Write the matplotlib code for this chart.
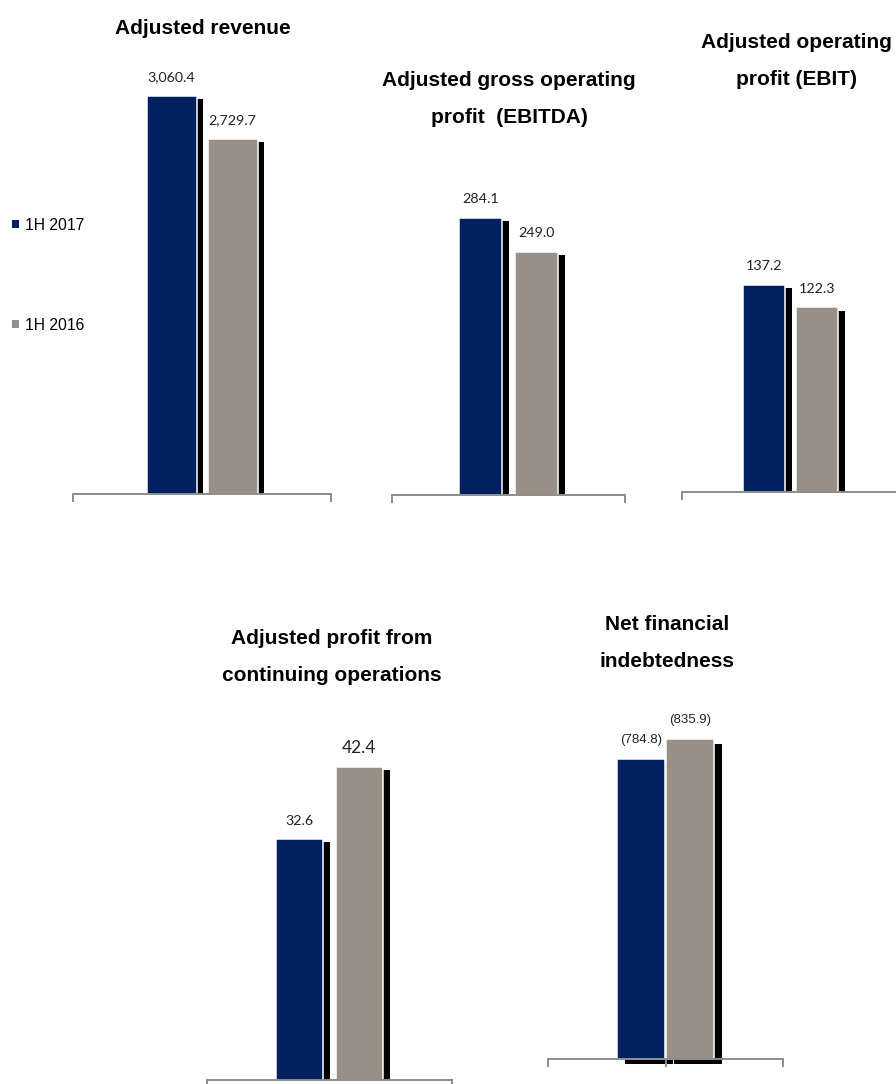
import matplotlib
matplotlib.use("Agg")
from matplotlib import pyplot as plt
from matplotlib import patheffects as pe
from matplotlib.patches import Patch

# values in EUR million, one panel per KPI
series_names = ["1H 2017", "1H 2016"]
panel_titles = [
    "Adjusted revenue",
    "Adjusted gross operating\nprofit  (EBITDA)",
    "Adjusted operating\nprofit (EBIT)",
    "Adjusted profit from\ncontinuing operations",
    "Net financial\nindebtedness",
]
values_2017 = [3060.4, 284.1, 137.2, 32.6, 784.8]
values_2016 = [2729.7, 249.0, 122.3, 42.4, 835.9]
# net debt is shown in brackets
in_brackets = [False, False, False, False, True]

NAVY = "#002060"
TAUPE = "#988f86"
AXIS_GREY = "#8c8c8c"

W, H = 896, 1084

# per panel, in pixels: axis left, axis right, baseline, top of tallest bar, bar pitch, bar width
panel_boxes = [
    (73, 331, 494, 96, 61, 50),
    (392, 625, 495, 218, 55.5, 43),
    (682, 899, 492, 285, 53, 42),
    (207, 452, 1080, 767, 59.5, 47),
    (548, 783, 1059, 739, 49, 48),
]
title_centres = [(203, 28), (509, 99), (796, 61), (332, 657), (667, 643)]
# value label font: family, size 2017, size 2016
label_fonts = [
    ("Lato", 10.3, 10.3),
    ("Lato", 10.3, 10.3),
    ("Lato", 10.3, 10.3),
    ("Lato", 10.3, 12.5),
    ("Liberation Sans", 9.5, 9.5),
]


def px_rect(left, right, base, top):
    return [left / W, 1 - base / H, (right - left) / W, (base - top) / H]


def fmt(v, brackets):
    s = f"{v:,.1f}"
    return f"({s})" if brackets else s


def draw_panel(fig, i):
    left, right, base, top, pitch, bw = panel_boxes[i]
    ax = fig.add_axes(px_rect(left, right, base, top))
    ax.patch.set_visible(False)

    half = (right - left) / 2 / pitch
    ax.set_xlim(0.5 - half, 0.5 + half)
    vals = [values_2017[i], values_2016[i]]
    ax.set_ylim(0, max(vals))

    # the net debt panel lets its drop shadow hang below the axis line
    hang = i == 4
    bars = ax.bar([0, 1], vals, width=bw / pitch, color=[NAVY, TAUPE],
                  edgecolor="white", linewidth=1.1, clip_on=not hang)
    shadow = (5.8, -3.6) if hang else (5.0, -2.2)
    for b in bars:
        b.set_path_effects([pe.SimplePatchShadow(offset=shadow, shadow_rgbFace="black", alpha=1.0),
                            pe.Normal()])

    for side in ["top", "left", "right"]:
        ax.spines[side].set_visible(False)
    ax.spines["bottom"].set_color(AXIS_GREY)
    ax.spines["bottom"].set_linewidth(1.4)
    ax.set_yticks([])
    eps = 1e-6
    ticks = [0.5 - half + eps, 0.5 + half - eps]
    if hang:
        ticks.insert(1, 0.5)
    ax.set_xticks(ticks)
    ax.set_xticklabels([])
    ax.tick_params(axis="x", direction="out", length=6, width=1.4, color=AXIS_GREY)

    family, s17, s16 = label_fonts[i]
    for x, v, size in zip([0, 1], vals, [s17, s16]):
        ax.annotate(fmt(v, in_brackets[i]), (x, v), xytext=(0, 13.5), textcoords="offset points",
                    ha="center", va="center", fontsize=size, family=family, color="#222222",
                    annotation_clip=False)

    cx, cy = title_centres[i]
    fig.text(cx / W, 1 - cy / H, panel_titles[i], ha="center", va="center",
             fontsize=15, fontweight="bold", family="Liberation Sans", linespacing=2.2)


def main():
    fig = plt.figure(figsize=(W / 100, H / 100), dpi=100)

    for i in range(len(panel_titles)):
        draw_panel(fig, i)

    handles = [Patch(facecolor=NAVY, label=series_names[0]),
               Patch(facecolor=TAUPE, label=series_names[1])]
    fig.legend(handles=handles, loc="upper left", bbox_to_anchor=(12 / W, 1 - 218 / H),
               frameon=False, prop={"family": "Liberation Sans", "size": 11.3},
               handlelength=0.45, handleheight=0.4, handletextpad=0.35,
               labelspacing=5.4, borderpad=0, borderaxespad=0)

    fig.savefig("out.png", dpi=100)


if __name__ == "__main__":
    main()
